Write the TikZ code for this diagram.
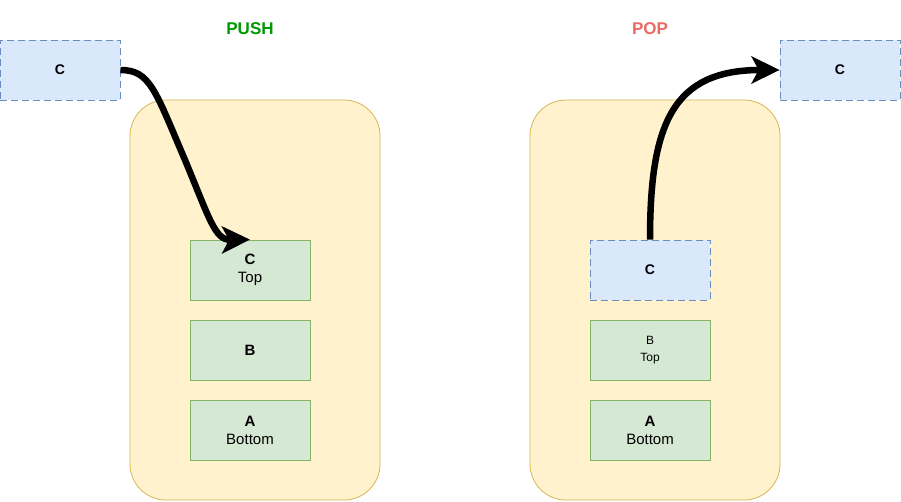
\documentclass[tikz,border=0pt]{standalone}
\usepackage{fontspec}
\setmainfont{Liberation Sans}
\usetikzlibrary{arrows.meta}
\definecolor{stackfill}{HTML}{FFF2CC}
\definecolor{stackline}{HTML}{D6B656}
\definecolor{itemfill}{HTML}{D5E8D4}
\definecolor{itemline}{HTML}{82B366}
\definecolor{movefill}{HTML}{DAE8FC}
\definecolor{moveline}{HTML}{6C8EBF}
\definecolor{pushcol}{HTML}{009900}
\definecolor{popcol}{HTML}{EA6B66}
\begin{document}
\begin{tikzpicture}[x=1pt, y=-1pt,
  stack/.style={draw=stackline, fill=stackfill, line width=0.8pt, rounded corners=36pt},
  item/.style={draw=itemline, fill=itemfill, line width=0.8pt, minimum width=120pt,
    minimum height=60pt, align=center, inner sep=0pt,
    font=\fontsize{15}{18}\selectfont},
  moving/.style={draw=moveline, fill=movefill, line width=0.8pt,
    dash pattern=on 7pt off 4pt, minimum width=120pt, minimum height=60pt,
    inner sep=0pt, font=\fontsize{14}{17}\selectfont\bfseries},
  move/.style={line width=6.5pt, -{Stealth[length=28pt, width=27pt, inset=7pt]}},
  title/.style={font=\fontsize{17}{20}\selectfont\bfseries}]
  \useasboundingbox (0,0) rectangle (901,501);

  % Stacks
  \draw[stack] (130,100) rectangle (380,500);
  \draw[stack] (530,100) rectangle (780,500);

  % Titles
  \node[title, text=pushcol] (push) at (250,29) {PUSH};
  \node[title, text=popcol] (pop) at (650,29) {POP};

  % Push side
  \node[moving] (cin) at (60,70) {C};
  \node[item] (ctop) at (250,270) {\textbf{C}\\Top};
  \node[item] (bleft) at (250,350) {\textbf{B}};
  \node[item] (aleft) at (250,430) {\textbf{A}\\Bottom};

  % Pop side
  \node[moving] (cpop) at (650,270) {C};
  \node[item, font=\fontsize{12}{17}\selectfont] (btop) at (650,350) {B\\Top};
  \node[item] (aright) at (650,430) {\textbf{A}\\Bottom};
  \node[moving] (cout) at (840,70) {C};

  % Arrows
  \draw[move] (cin.east) .. controls (150,70) and (155,90) .. (185,160)
    .. controls (210,220) and (215,240) .. (ctop.north);
  \draw[move] (cpop.north) .. controls (650,125) and (672,70) .. (cout.west);
\end{tikzpicture}
\end{document}
